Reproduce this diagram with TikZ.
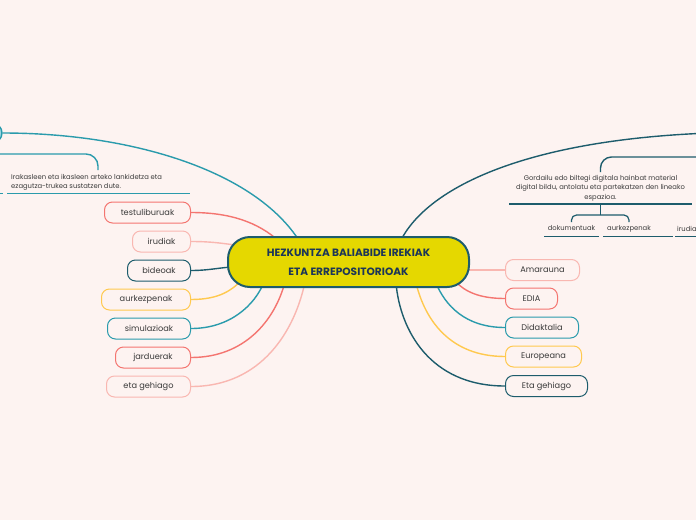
\documentclass[tikz,border=0pt]{standalone}
\usepackage{fontspec}
\setmainfont{Poppins}
\usetikzlibrary{calc}
\definecolor{bgc}{HTML}{FDF3F1}
\definecolor{cteal}{HTML}{2A9BAC}
\definecolor{cdteal}{HTML}{1D5C6C}
\definecolor{csal}{HTML}{F47570}
\definecolor{cpink}{HTML}{F9B7B1}
\definecolor{cyel}{HTML}{FFC94F}
\definecolor{cfill}{HTML}{E5D800}
\definecolor{cnavy}{HTML}{1C3658}
\definecolor{ctext}{HTML}{3A3A3A}
\definecolor{ccirc}{HTML}{9ED6E2}
\pgfdeclarelayer{lines}
\pgfsetlayers{lines,main}
\begin{document}
\begin{tikzpicture}[x=1pt,y=-1pt,
  leaf/.style={draw, rounded corners=8pt, line width=1pt, fill=bgc, minimum height=21pt, inner sep=0pt, font=\fontsize{8.2}{9}\selectfont, text=ctext},
  conn/.style={line width=1.4pt},
  desc/.style={inner sep=0pt, text=ctext, font=\fontsize{6.8}{9.5}\selectfont},
  uline/.style={line width=1pt}]
\begin{pgfonlayer}{lines}
\fill[bgc] (0,0) rectangle (696,520);
\end{pgfonlayer}
\useasboundingbox (0,0) rectangle (696,520);

% central
\node[draw=cdteal, line width=2pt, fill=cfill, rounded corners=22pt, minimum width=241pt, minimum height=50pt, align=center, inner sep=0pt, font=\bfseries\fontsize{10.6}{19}\selectfont, text=cnavy] (c) at (348.5,262) {HEZKUNTZA BALIABIDE IREKIAK\\ETA ERREPOSITORIOAK};

% left leaves
\node[leaf, draw=csal, minimum width=86pt, anchor=east] (l1) at (191,212.5) {testuliburuak};
\node[leaf, draw=cpink, minimum width=58pt, anchor=east] (l2) at (191,241.5) {irudiak};
\node[leaf, draw=cdteal, minimum width=63pt, anchor=east] (l3) at (191,270.5) {bideoak};
\node[leaf, draw=cyel, minimum width=89pt, anchor=east] (l4) at (191,299.5) {aurkezpenak};
\node[leaf, draw=cteal, minimum width=83pt, anchor=east] (l5) at (191,328.5) {simulazioak};
\node[leaf, draw=csal, minimum width=75pt, anchor=east] (l6) at (191,357.5) {jarduerak};
\node[leaf, draw=cpink, minimum width=84pt, anchor=east] (l7) at (191,386.5) {eta gehiago};

% right leaves
\node[leaf, draw=cpink, minimum width=74pt, anchor=west] (r1) at (505,270) {Amarauna};
\node[leaf, draw=csal, minimum width=52pt, anchor=west] (r2) at (505,298.5) {EDIA};
\node[leaf, draw=cteal, minimum width=73pt, anchor=west] (r3) at (505,327.5) {Didaktalia};
\node[leaf, draw=cyel, minimum width=76pt, anchor=west] (r4) at (505,356.5) {Europeana};
\node[leaf, draw=cdteal, minimum width=82pt, anchor=west] (r5) at (505,386) {Eta gehiago};

% left topic circle (mostly off page)
\node[circle, draw=cteal, line width=1.4pt, fill=ccirc, minimum size=20pt, inner sep=0pt] (lt) at (-8,133) {};
\coordinate (rt) at (710,133);

% left description
\node[desc, anchor=west, align=left] (ld) at (11,182.5) {Irakasleen eta ikasleen arteko lankidetza eta\\ezagutza-trukea sustatzen dute.};
\coordinate (ldl) at (7,193);
\coordinate (ldr) at (190,193);
\coordinate (lbs) at (-5,154);
\coordinate (lbe) at (98,170);

% right description
\node[desc, align=center] (rd) at (600.5,188) {Gordailu edo biltegi digitala hainbat material\\digital bildu, antolatu eta partekatzen den lineako\\espazioa.};
\coordinate (rdl) at (509,204);
\coordinate (rdr) at (692,204);
\coordinate (rdm) at (600.5,204);
\coordinate (rbs) at (710,157);
\coordinate (rbe) at (600.5,172);

\node[desc, font=\fontsize{6.8}{8}\selectfont] (k1) at (571.5,228.5) {dokumentuak};
\node[desc, font=\fontsize{6.8}{8}\selectfont] (k2) at (629,228.5) {aurkezpenak};
\node[desc, font=\fontsize{6.8}{8}\selectfont, anchor=west] (k3) at (677,228.5) {irudiak};

\begin{pgfonlayer}{lines}
% left connectors
\draw[conn, csal]  (l1.east) .. controls (230,212.5) and (258,222) .. (280,242);
\draw[conn, cpink] (l2.east) .. controls (210,241.5) and (220,243) .. (235,245);
\draw[conn, cdteal](l3.east) .. controls (210,270.5) and (222,267) .. (235,267);
\draw[conn, cyel]  (l4.east) .. controls (220,299.5) and (232,290) .. (243,279);
\draw[conn, cteal] (l5.east) .. controls (230,328.5) and (255,305) .. (264,282);
\draw[conn, csal]  (l6.east) .. controls (245,357.5) and (275,320) .. (285,282);
\draw[conn, cpink] (l7.east) .. controls (262,386.5) and (295,330) .. (305,282);
% right connectors
\draw[conn, cpink] (r1.west) -- (465,270);
\draw[conn, csal]  (r2.west) .. controls (480,298.5) and (465,292) .. (455,281);
\draw[conn, cteal] (r3.west) .. controls (465,327.5) and (445,305) .. (436,283);
\draw[conn, cyel]  (r4.west) .. controls (450,356.5) and (425,320) .. (416,283);
\draw[conn, cdteal](r5.west) .. controls (430,386) and (400,330) .. (396,283);
% main topic connectors
\draw[conn, cteal] (lt.east) .. controls (130,133) and (255,170) .. (300,242);
\draw[conn, cdteal] (400,242) .. controls (425,190) and (520,140) .. (rt);
% description brackets
\draw[line width=1.4pt, cteal, rounded corners=12pt] (lbs) -| (lbe);
\draw[uline, cteal] (ldl) -- (ldr);
\draw[uline, cteal] (-5,193) -- (3,193);
\draw[line width=1.4pt, cdteal, rounded corners=11pt] (rbs) -| (rbe);
\draw[uline, cdteal, line width=1.2pt] (rdl) -- (rdr);
\draw[line width=1.2pt, cdteal] (rdm) -- (600.5,215);
\draw[line width=1.2pt, cdteal, rounded corners=5pt] (571.5,222) |- (629,215) -- (629,222);
\draw[uline, cdteal] (544,236) -- (599,236);
\draw[uline, cdteal] (603,236) -- (673,236);
\draw[uline, cdteal] (675,236) -- (700,236);
\end{pgfonlayer}
\end{tikzpicture}
\end{document}
